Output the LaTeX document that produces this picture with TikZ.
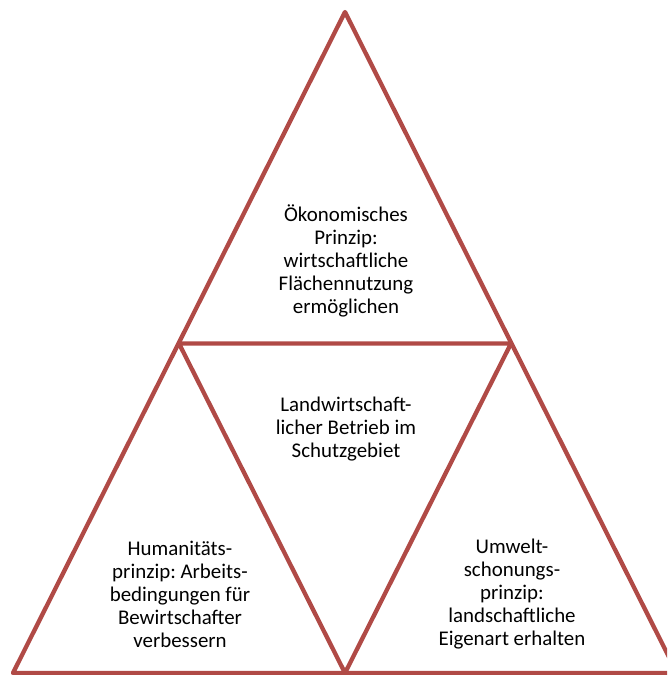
\documentclass[tikz,border=0pt]{standalone}
\usepackage{fontspec}
\setmainfont{Carlito}
\frenchspacing
\definecolor{framered}{RGB}{176,74,70}
\begin{document}
\begin{tikzpicture}[x=1pt,y=-1pt,
  edge/.style={draw=framered,line width=4.3pt,line join=round},
  label/.style={align=center,font=\fontsize{20.9}{23}\selectfont,text=black,inner sep=0pt}]
\useasboundingbox (0,0) rectangle (667,675);
\clip (0,0) rectangle (667,675);
% corner points of the outer triangle and its edge midpoints
\coordinate (apex) at (345,12);
\coordinate (bl) at (13,673);
\coordinate (br) at (677,673);
\coordinate (ml) at (179,343.5);
\coordinate (mr) at (511,343.5);
\coordinate (bm) at (345,673);
% outer triangle and inner (inverted) triangle
\draw[edge] (apex) -- (bl) -- (br) -- cycle;
\draw[edge] (ml) -- (mr) -- (bm) -- cycle;
% texts
\node[label] (top) at (346,261) {Ökonomisches\\Prinzip:\\wirtschaftliche\\Flächennutzung\\ermöglichen};
\node[label] (mid) at (346,429) {Landwirtschaft-\\licher Betrieb im\\Schutzgebiet};
\node[label] (left) at (180,594) {Humanitäts-\\prinzip: Arbeits-\\bedingungen für\\Bewirtschafter\\verbessern};
\node[label] (right) at (512,594) {Umwelt-\\schonungs-\\prinzip:\\landschaftliche\\Eigenart erhalten};
\end{tikzpicture}
\end{document}
